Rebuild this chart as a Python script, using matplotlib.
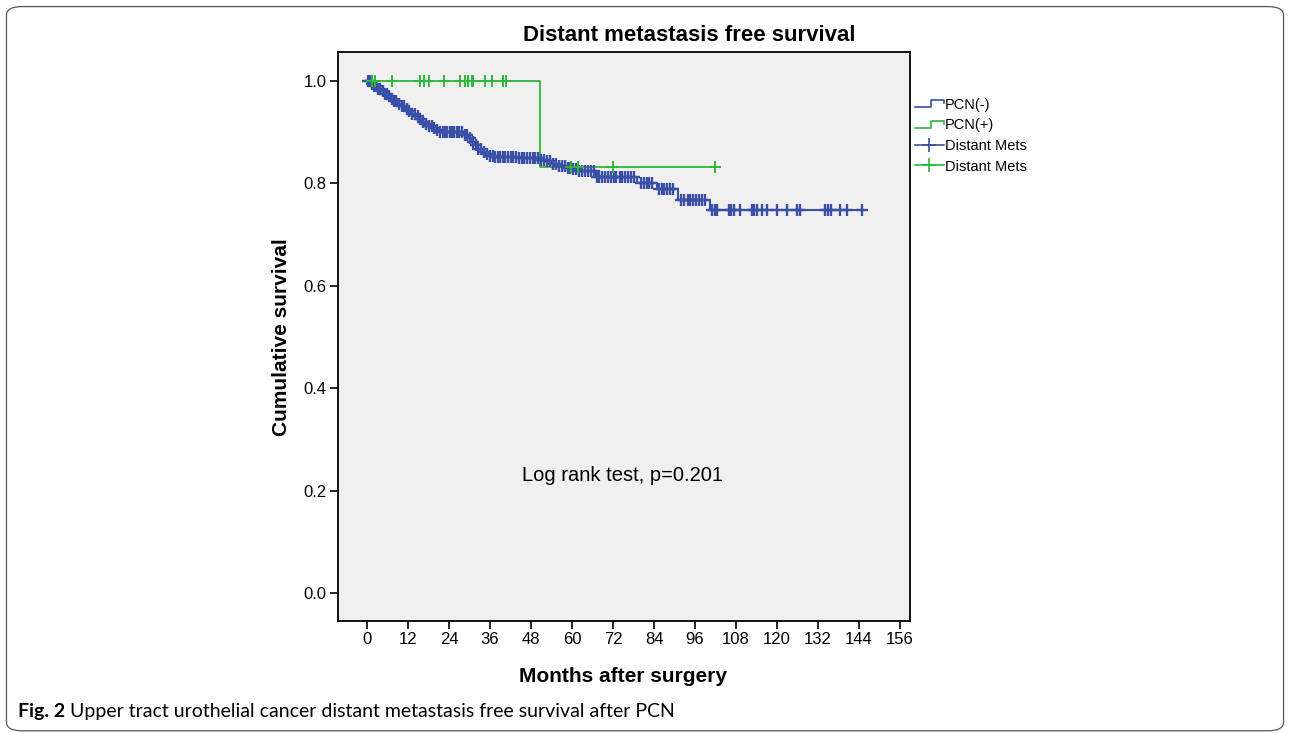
import numpy as np
import matplotlib
matplotlib.use('Agg')
import matplotlib.pyplot as plt
from matplotlib import font_manager
from matplotlib.lines import Line2D
from matplotlib.legend_handler import HandlerBase
from matplotlib.patches import FancyBboxPatch

# PCN(-) : step times (months) and cumulative survival
neg_times = [0, 1, 2, 3, 4, 5, 6, 7, 8, 9, 10, 11, 12, 13, 14, 15, 16, 17, 18, 19, 20, 21,
             28.5, 29.5, 30.5, 31.5, 32.5, 33.5, 34.5, 35.5, 37, 44, 50.5, 52, 54, 56, 58,
             60, 62, 67, 79, 85, 91, 100.5]
neg_surv = [1.0, .995, .99, .985, .98, .975, .97, .966, .961, .956, .951, .946, .941, .936,
            .931, .926, .921, .917, .913, .909, .905, .901, .895, .889, .882, .875, .868,
            .862, .857, .854, .851, .849, .846, .843, .839, .835, .831, .828, .824, .813,
            .80, .789, .768, .748]
neg_end = 144.8
neg_censor = [0.4, 0.9, 1.5, 2.1, 2.6, 3.3, 3.9, 4.6, 5.2, 5.9, 6.5, 7.3, 8.0, 8.6, 9.4, 10.2,
              10.9, 11.7, 12.4, 13.1, 13.9, 14.8, 15.5, 16.3, 17.2, 18.0, 18.9, 19.7, 20.6,
              21.4, 22.1, 22.9, 23.5, 24.2, 24.8, 25.6, 26.3, 27.0, 27.8, 28.6, 29.4, 30.1,
              30.9, 31.8, 32.6, 33.4, 34.3, 35.1, 36.0, 36.8, 37.5, 38.3, 39.0, 39.8, 40.5,
              41.3, 42.1, 42.8, 43.6, 44.5, 45.3, 46.0, 46.8, 47.7, 48.5, 49.2, 50.1, 51.0,
              51.8, 52.7, 53.5, 54.4, 55.2, 56.1, 57.0, 57.8, 58.7, 59.5, 60.4, 61.2, 62.1,
              63.0, 63.8, 64.7, 65.5, 66.4, 67.3, 68.0, 68.8, 69.6, 70.5, 71.3, 72.2, 73.0,
              73.9, 74.7, 75.6, 76.4, 77.3, 78.2, 80.3, 81.0, 81.8, 82.6, 83.4, 85.4, 86.2,
              87.0, 87.9, 88.7, 89.5, 92.0, 92.9, 93.8, 94.6, 95.5, 96.3, 97.2, 98.0, 98.9,
              100.9, 101.9, 102.4, 105.8, 106.5, 107.3, 109.3, 112.6, 113.3, 114.1, 115.5,
              117.0, 119.9, 122.8, 125.7, 126.7, 134.0, 134.9, 135.9, 138.4, 140.4, 144.8]

# PCN(+)
pos_times = [0, 50.6]
pos_surv = [1.0, 0.833]
pos_end = 101.9
pos_censor = [1.4, 2.3, 7.2, 15.5, 16.6, 18.0, 22.5, 27.2, 28.7, 29.6, 30.6, 31.1, 34.5,
              36.5, 39.9, 40.6, 59.6, 61.8, 72.1, 101.9]

x_ticks = list(range(0, 157, 12))
y_ticks = [0.0, 0.2, 0.4, 0.6, 0.8, 1.0]

blue = '#3a4fa6'
green = '#2fb83a'

plt.rcParams['font.family'] = ['Liberation Sans', 'DejaVu Sans']
names = {f.name for f in font_manager.fontManager.ttflist}
narrow = 'Liberation Sans Narrow' if 'Liberation Sans Narrow' in names else 'Liberation Sans'


def at(times, surv, t):
    idx = np.searchsorted(times, t, side='right') - 1
    return np.array(surv)[idx]


class StepHandler(HandlerBase):
    def create_artists(self, legend, orig_handle, xdescent, ydescent, width, height, fontsize, trans):
        lo, hi = 0.15 * height, 0.85 * height
        xs = [0, 0.55 * width, 0.55 * width, width, width]
        ys = [lo, lo, hi, hi, hi - 0.3 * height]
        ln = Line2D(np.array(xs) - xdescent, np.array(ys) - ydescent,
                    color=orig_handle.get_color(), lw=1.2, transform=trans)
        return [ln]


fig = plt.figure(figsize=(12.9, 7.33), dpi=100)
ax = fig.add_axes([0.262, 0.1528, 0.4434, 0.7763])
ax.set_facecolor('#f0f0f0')

# curves
gx = pos_times + [pos_end]
gy = pos_surv + [pos_surv[-1]]
ax.step(gx, gy, where='post', color=green, lw=1.3, zorder=2)
bx = neg_times + [neg_end]
by = neg_surv + [neg_surv[-1]]
ax.step(bx, by, where='post', color=blue, lw=1.5, zorder=3)
ax.plot(neg_censor, at(neg_times, neg_surv, neg_censor), ls='none', marker='+',
        color=blue, ms=9, mew=1.7, zorder=3)
ax.plot(pos_censor, at(pos_times, pos_surv, pos_censor), ls='none', marker='+',
        color=green, ms=8, mew=1.4, zorder=4)

ax.set_xlim(-8.5, 158.9)
ax.set_ylim(-0.055, 1.057)
ax.set_xticks(x_ticks)
ax.set_yticks(y_ticks)
ax.set_yticklabels(['%.1f' % v for v in y_ticks])
ax.tick_params(direction='out', length=6, width=1.2, labelsize=12, pad=2, colors='black')
for lab in ax.get_xticklabels() + ax.get_yticklabels():
    lab.set_family(narrow)
for s in ax.spines.values():
    s.set_linewidth(1.3)
    s.set_color('black')

ax.text(74.9, 0.23, 'Log rank test, p=0.201', fontsize=14.5, ha='center', va='center')

fig.text(0.534, 0.952, 'Distant metastasis free survival', fontsize=16, fontweight='bold',
         ha='center', va='center')
fig.text(0.483, 0.0764, 'Months after surgery', fontsize=15, fontweight='bold',
         ha='center', va='center')
fig.text(0.2186, 0.54, 'Cumulative survival', fontsize=15, fontweight='bold',
         ha='center', va='center', rotation=90)

# legend
h1 = Line2D([], [], color=blue)
h2 = Line2D([], [], color=green)
h3 = Line2D([], [], color=blue, marker='+', ms=10, mew=1.2, lw=1.2)
h4 = Line2D([], [], color=green, marker='+', ms=10, mew=1.2, lw=1.2)
fig.legend([h1, h2, h3, h4], ['PCN(-)', 'PCN(+)', 'Distant Mets', 'Distant Mets'],
           handler_map={h1: StepHandler(), h2: StepHandler()},
           loc='upper left', bbox_to_anchor=(0.709, 0.8665), frameon=False,
           fontsize=10.5, handlelength=2.0, handletextpad=0.1, labelspacing=0.45,
           borderpad=0, borderaxespad=0)

# caption and frame
t1 = fig.text(0.014, 0.0287, 'Fig. 2', fontsize=14, fontweight='bold', family='Lato',
              ha='left', va='center')
fig.text(0, 0, ' ', alpha=0)
ax.annotate(' Upper tract urothelial cancer distant metastasis free survival after PCN',
            xy=(1, 0), xycoords=t1, fontsize=14, family='Lato', ha='left', va='bottom',
            annotation_clip=False)
frame = FancyBboxPatch((0.005, 0.003), 0.99, 0.988, boxstyle='round,pad=0,rounding_size=0.012',
                       transform=fig.transFigure, fill=False, ec='#555555', lw=0.9)
fig.patches.append(frame)

fig.savefig('out.png', dpi=100)
